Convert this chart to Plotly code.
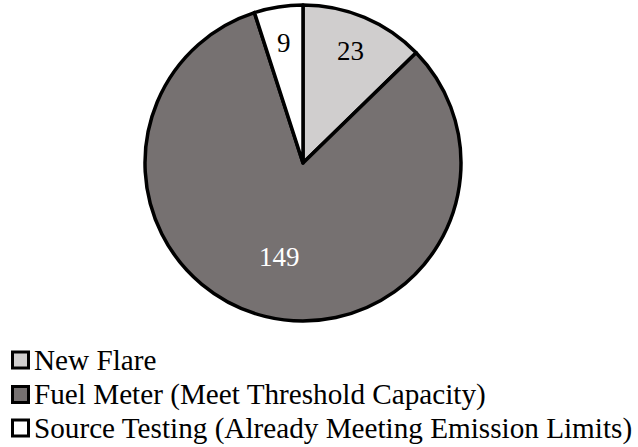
import math
import plotly.graph_objects as go

# Counts by compliance approach
labels = ["New Flare", "Fuel Meter (Meet Threshold Capacity)",
          "Source Testing (Already Meeting Emission Limits)"]
values = [23, 149, 9]
colors = ["#D0CECE", "#767171", "#FFFFFF"]
text_colors = ["#000000", "#FFFFFF", "#000000"]

W, H = 638, 447
FONT = "Liberation Serif"

# Pie placement (pixels) and radial position of each value label
PX0, PX1, PY0, PY1 = 145, 461, 5, 321
label_radius = [0.77, 0.61, 0.77]

fig = go.Figure(go.Pie(
    labels=labels,
    values=values,
    sort=False,
    direction="clockwise",
    rotation=0,
    marker=dict(colors=colors, line=dict(color="#000000", width=3.5)),
    textinfo="none",
    domain=dict(x=[PX0 / W, PX1 / W], y=[1 - PY1 / H, 1 - PY0 / H]),
    showlegend=False,
    hoverinfo="label+value",
))

# Value labels placed along each slice's mid-angle
cx, cy = (PX0 + PX1) / 2, (PY0 + PY1) / 2
R = min(PX1 - PX0, PY1 - PY0) / 2
total = sum(values)
cum = 0
for v, tc, fr in zip(values, text_colors, label_radius):
    mid = (cum + v / 2) / total * 2 * math.pi
    cum += v
    lx = cx + fr * R * math.sin(mid)
    ly = cy - fr * R * math.cos(mid)
    fig.add_annotation(
        x=lx / W, y=1 - ly / H, xref="paper", yref="paper",
        xanchor="center", yanchor="middle", showarrow=False,
        text=str(v), font=dict(family=FONT, size=27, color=tc),
    )

# Legend drawn as swatches and labels below the pie
row_y = [360, 394.5, 428]
sw = 16
for lab, col, yc in zip(labels, colors, row_y):
    fig.add_shape(
        type="rect", xref="paper", yref="paper",
        x0=12.5 / W, x1=(12.5 + sw) / W,
        y0=1 - (yc + sw / 2) / H, y1=1 - (yc - sw / 2) / H,
        fillcolor=col, line=dict(color="#000000", width=3),
    )
    fig.add_annotation(
        x=32 / W, y=1 - yc / H, xref="paper", yref="paper",
        xanchor="left", yanchor="middle", showarrow=False,
        text=lab, font=dict(family=FONT, size=29.2, color="#000000"),
    )

fig.update_layout(
    width=W, height=H,
    margin=dict(l=0, r=0, t=0, b=0),
    paper_bgcolor="#FFFFFF",
    plot_bgcolor="#FFFFFF",
)

fig.write_html("out.html")
